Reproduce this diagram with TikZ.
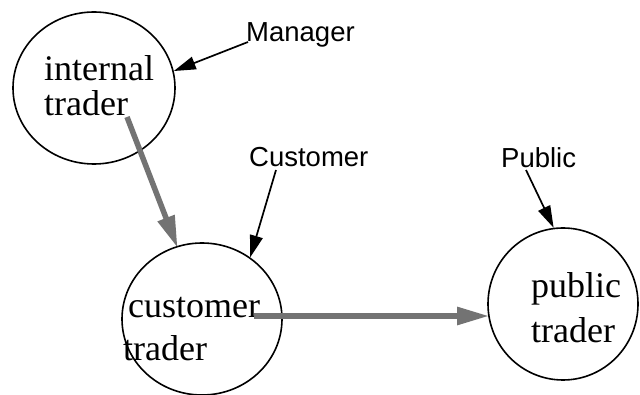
\documentclass[tikz,border=0pt]{standalone}
\usepackage{fontspec}
\setmainfont{Liberation Serif}
\newfontfamily\labelfont{Liberation Sans}
\usetikzlibrary{shapes.geometric,arrows.meta}
\definecolor{flowgray}{gray}{0.45}
\begin{document}
\begin{tikzpicture}[x=1pt,y=-1pt,
  trader/.style={ellipse,draw=black,line width=1.6pt,inner sep=0pt},
  word/.style={anchor=base west,inner sep=0pt,font=\fontsize{36}{36}\selectfont},
  role/.style={anchor=base west,inner sep=0pt,font=\labelfont\fontsize{27.5}{27.5}\selectfont},
  pointer/.style={draw=black,line width=1.7pt,-{Triangle[length=22pt,width=13pt]}},
  flow/.style={draw=flowgray,line width=5.5pt,-{Triangle[length=32pt,width=17pt]},shorten >=-2pt}
]
\useasboundingbox (0,0) rectangle (640,395);
\fill[white] (0,0) rectangle (640,395);

% the three traders
\node[trader,minimum width=162pt,minimum height=152pt] (internal) at (94,88) {};
\node[trader,minimum width=160pt,minimum height=152pt] (customer) at (202,319) {};
\node[trader,minimum width=150pt,minimum height=152pt] (public) at (563,304) {};

% trader names
\node[word] (int1) at (44,81) {internal};
\node[word] (int2) at (44,115.5) {trader};
\node[word] (cus1) at (128,318) {customer};
\node[word] (cus2) at (123,360) {trader};
\node[word] (pub1) at (531,298) {public};
\node[word] (pub2) at (531,342) {trader};

% roles
\node[role] (mgr) at (246,42) {Manager};
\node[role] (cst) at (249,167) {Customer};
\node[role] (pbl) at (501,168) {Public};

% role pointers
\draw[pointer] ([xshift=2pt]mgr.base west) -- (internal.12);
\draw[pointer] ([xshift=27pt,yshift=-3pt]cst.base west) -- (customer.52);
\draw[pointer] ([xshift=25pt,yshift=-2pt]pbl.base west) -- (public.97);

% flows between traders
\coordinate (fromint) at (127,117);
\coordinate (fromcus) at (254,316);
\draw[flow] (fromint) -- (customer.109);
\draw[flow] (fromcus) -- (fromcus -| public.west);
\end{tikzpicture}
\end{document}
